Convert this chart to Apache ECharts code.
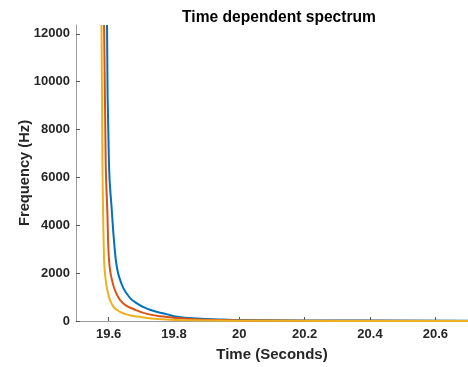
<!DOCTYPE html>
<html>
<head>
<meta charset="utf-8">
<script src="https://cdn.jsdelivr.net/npm/echarts@6/dist/echarts.min.js"></script>
<style>html,body{margin:0;padding:0;background:#fff;}#c{width:468px;height:367px;}</style>
</head>
<body>
<div id="c"></div>
<script>
// Data: [time (s), frequency (Hz)]
var seriesNames = ['Series 1', 'Series 2', 'Series 3'];
var blueData = [
  [19.595, 12371], [19.601, 6528], [19.610, 4536], [19.618, 3093], [19.625, 2268],
  [19.635, 1720], [19.654, 1168], [19.684, 756], [19.724, 482], [19.780, 276],
  [19.809, 177], [19.870, 100], [19.950, 60], [20.000, 42], [20.200, 25],
  [20.400, 16], [20.700, 10]
];
var orangeData = [
  [19.586, 12371], [19.591, 6528], [19.596, 4536], [19.599, 3093], [19.603, 2268],
  [19.610, 1720], [19.623, 1168], [19.643, 756], [19.679, 482], [19.724, 276],
  [19.775, 177], [19.830, 100], [19.900, 50], [20.000, 25], [20.200, 14],
  [20.400, 9], [20.700, 5]
];
var yellowData = [
  [19.578, 12371], [19.581, 6528], [19.583, 4536], [19.585, 3093], [19.587, 2268],
  [19.591, 1720], [19.598, 1168], [19.608, 756], [19.623, 482], [19.654, 276],
  [19.694, 177], [19.750, 80], [19.850, 30], [20.000, 10], [20.300, 5],
  [20.700, 2]
];
var xTicks = [19.6, 19.8, 20, 20.2, 20.4, 20.6];
var yTicks = [0, 2000, 4000, 6000, 8000, 10000, 12000];
var colors = ['#0072BD', '#D95319', '#EDB120'];

var font = '"Liberation Sans", Arial, Helvetica, sans-serif';
var chart = echarts.init(document.getElementById('c'), null, {renderer: 'canvas'});
var option = {
  animation: false,
  backgroundColor: '#ffffff',
  title: {
    text: 'Time dependent spectrum',
    left: 274, top: 5, textAlign: 'center',
    textStyle: {fontFamily: font, fontSize: 15.6, fontWeight: 'bold', color: '#000'}
  },
  grid: {left: 76, right: -4, top: 25, bottom: 42, containLabel: false},
  xAxis: {
    type: 'value', min: 19.5, max: 20.7,
    name: 'Time (Seconds)', nameLocation: 'middle', nameGap: 26, nameMoveOverlap: false,
    nameTextStyle: {fontFamily: font, fontSize: 15, fontWeight: 'bold', color: '#262626'},
    axisLine: {show: true, onZero: false, lineStyle: {color: '#9a9a9a', width: 1}},
    axisTick: {show: true, inside: true, length: 4, customValues: xTicks, lineStyle: {color: '#555'}},
    axisLabel: {customValues: xTicks, margin: 7, fontFamily: font, fontSize: 13, fontWeight: 'bold', color: '#262626'},
    splitLine: {show: false}
  },
  yAxis: {
    type: 'value', min: 0, max: 12371,
    name: 'Frequency (Hz)', nameLocation: 'middle', nameGap: 44, nameRotate: 90, nameMoveOverlap: false,
    nameTextStyle: {fontFamily: font, fontSize: 14.7, fontWeight: 'bold', color: '#262626'},
    axisLine: {show: true, lineStyle: {color: '#9a9a9a', width: 1}},
    axisTick: {show: true, inside: true, length: 4, customValues: yTicks, lineStyle: {color: '#555'}},
    axisLabel: {customValues: yTicks, margin: 6, fontFamily: font, fontSize: 13, fontWeight: 'bold', color: '#262626',
      formatter: function (v) { return String(v); }},
    splitLine: {show: false}
  },
  series: [
    {name: seriesNames[0], type: 'line', data: blueData, smooth: 0.5, showSymbol: false, lineStyle: {color: colors[0], width: 2}, itemStyle: {color: colors[0]}, clip: true},
    {name: seriesNames[1], type: 'line', data: orangeData, smooth: 0.5, showSymbol: false, lineStyle: {color: colors[1], width: 2}, itemStyle: {color: colors[1]}, clip: true},
    {name: seriesNames[2], type: 'line', data: yellowData, smooth: 0.5, showSymbol: false, lineStyle: {color: colors[2], width: 2}, itemStyle: {color: colors[2]}, clip: true}
  ]
};
chart.setOption(option);
</script>
</body>
</html>
